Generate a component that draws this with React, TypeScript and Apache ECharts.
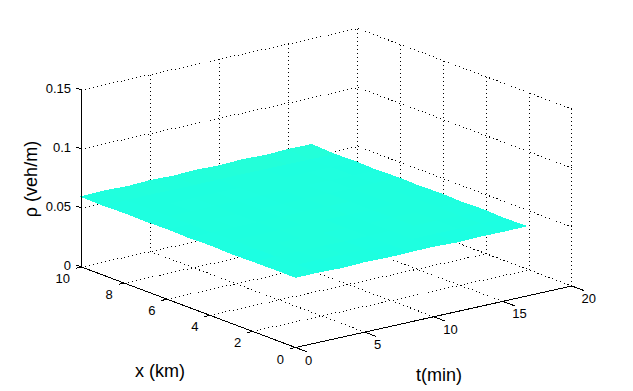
import React, { useEffect, useRef } from "react";
import * as echarts from "echarts";

const tTicks = [0, 5, 10, 15, 20];
const xTicks = [0, 2, 4, 6, 8, 10];
const zTicks = [0, 0.05, 0.1, 0.15];
const zTickLabels = ["0", "0.05", "0.1", "0.15"];
const surfaceT = [0, 1.67, 3.33, 5, 6.67, 8.33, 10, 11.67, 13.33, 15, 16.67];
const surfaceX = [0, 1, 2, 3, 4, 5, 6, 7, 8, 9, 10];
const rho0 = [0.0595, 0.0596, 0.0590, 0.0597, 0.0592, 0.0596, 0.0598, 0.0590, 0.0596, 0.0592, 0.0595];
const rho1 = [0.0596, 0.0594, 0.0597, 0.0595, 0.0596, 0.0593, 0.0595, 0.0597, 0.0594, 0.0596, 0.0590];
const rho2 = [0.0594, 0.0597, 0.0595, 0.0598, 0.0594, 0.0596, 0.0597, 0.0595, 0.0598, 0.0594, 0.0598];
const rho3 = [0.0591, 0.0595, 0.0598, 0.0596, 0.0599, 0.0595, 0.0594, 0.0598, 0.0596, 0.0597, 0.0592];
const rho4 = [0.0597, 0.0598, 0.0594, 0.0597, 0.0595, 0.0598, 0.0596, 0.0594, 0.0597, 0.0595, 0.0599];
const rho5 = [0.0592, 0.0594, 0.0597, 0.0595, 0.0598, 0.0596, 0.0599, 0.0595, 0.0597, 0.0596, 0.0593];
const rho6 = [0.0598, 0.0596, 0.0598, 0.0594, 0.0596, 0.0594, 0.0597, 0.0596, 0.0594, 0.0598, 0.0598];
const rho7 = [0.0593, 0.0595, 0.0596, 0.0598, 0.0595, 0.0597, 0.0595, 0.0598, 0.0596, 0.0595, 0.0591];
const rho8 = [0.0597, 0.0597, 0.0594, 0.0596, 0.0597, 0.0595, 0.0598, 0.0594, 0.0597, 0.0596, 0.0598];
const rho9 = [0.0592, 0.0595, 0.0597, 0.0595, 0.0594, 0.0597, 0.0596, 0.0597, 0.0595, 0.0594, 0.0593];
const rho10 = [0.0596, 0.0602, 0.0595, 0.0603, 0.0597, 0.0604, 0.0598, 0.0606, 0.0599, 0.0606, 0.0604];
const rhoRows = [rho0, rho1, rho2, rho3, rho4, rho5, rho6, rho7, rho8, rho9, rho10];

const tMax = tTicks[tTicks.length - 1];
const xMax = xTicks[xTicks.length - 1];
const zMax = zTicks[zTicks.length - 1];
const FONT = '"Liberation Sans", Arial, sans-serif';

// Fixed MATLAB-style orthographic view of the 3-D box onto the hidden 2-D axes.
const project = (t: number, x: number, z: number): [number, number] => [
  295.5 + 13.82 * t - 21.4 * x,
  347.5 - 3.075 * t - 8.05 * x - 1180 * z,
];

type P3 = [number, number, number];
const seg = (a: P3, b: P3, dotted: boolean, z: number) => ({
  type: "line",
  silent: true,
  symbol: "none",
  animation: false,
  z,
  lineStyle: { color: "#000", width: 1, type: dotted ? [1, 3] : "solid" },
  data: [project(...a), project(...b)],
});

const gridLines: any[] = [];
for (const t of tTicks) {
  if (t > 0) gridLines.push(seg([t, 0, 0], [t, xMax, 0], true, 1));
  gridLines.push(seg([t, xMax, 0], [t, xMax, zMax], true, 1));
}
for (const x of xTicks) {
  if (x > 0) gridLines.push(seg([0, x, 0], [tMax, x, 0], true, 1));
  gridLines.push(seg([tMax, x, 0], [tMax, x, zMax], true, 1));
}
for (const z of zTicks) {
  gridLines.push(seg([0, xMax, z], [tMax, xMax, z], true, 1));
  gridLines.push(seg([tMax, xMax, z], [tMax, 0, z], true, 1));
}

const axisLines = [
  seg([0, 0, 0], [tMax, 0, 0], false, 3),
  seg([0, 0, 0], [0, xMax, 0], false, 3),
  seg([0, xMax, 0], [0, xMax, zMax], false, 3),
  ...tTicks.map((t) => seg([t, 0, 0], [t, -0.55, 0], false, 3)),
  ...xTicks.map((x) => seg([0, x, 0], [-0.42, x, 0], false, 3)),
  ...zTicks.map((z) => seg([0, xMax, z], [0, xMax + 0.26, z], false, 3)),
];

const cells: number[][] = [];
for (let i = 0; i < surfaceX.length - 1; i++) {
  for (let j = 0; j < surfaceT.length - 1; j++) {
    cells.push([i, j]);
  }
}

const mix = (v: number) => {
  const k = Math.max(0, Math.min(1, (v - 0.0594) / 0.0006));
  const r = Math.round(0x1c + k * 0x08);
  const b = Math.round(0xe2 - k * 0x0a);
  return `rgb(${r},255,${b})`;
};

const surfaceSeries = {
  type: "custom",
  silent: true,
  animation: false,
  z: 2,
  coordinateSystem: "cartesian2d",
  data: cells,
  renderItem: (_p: any, api: any) => {
    const i = api.value(0);
    const j = api.value(1);
    const corner = (a: number, b: number) =>
      api.coord(project(surfaceT[b], surfaceX[a], rhoRows[a][b]));
    const mean =
      (rhoRows[i][j] + rhoRows[i + 1][j] + rhoRows[i][j + 1] + rhoRows[i + 1][j + 1]) / 4;
    const c = mix(mean);
    return {
      type: "polygon",
      shape: { points: [corner(i, j), corner(i + 1, j), corner(i + 1, j + 1), corner(i, j + 1)] },
      style: { fill: c, stroke: c, lineWidth: 1 },
    };
  },
};

type Lab = { text: string; at: [number, number]; align: string };
const labels: Lab[] = [
  ...tTicks.map((t) => {
    const p = project(t, 0, 0);
    return { text: String(t), at: [p[0] + 9.5, p[1] + 12.5] as [number, number], align: "left" };
  }),
  ...xTicks.map((x) => {
    const p = project(0, x, 0);
    return { text: String(x), at: [p[0] - 11.5, p[1] + 11.5] as [number, number], align: "right" };
  }),
  ...zTicks.map((z, i) => {
    const p = project(0, xMax, z);
    return { text: zTickLabels[i], at: [71, p[1] - 2] as [number, number], align: "right" };
  }),
];

const labelSeries = {
  type: "custom",
  silent: true,
  animation: false,
  z: 4,
  coordinateSystem: "cartesian2d",
  data: labels.map((l, i) => [l.at[0], l.at[1], i]),
  renderItem: (_p: any, api: any) => {
    const l = labels[api.value(2)];
    const c = api.coord([api.value(0), api.value(1)]);
    return {
      type: "text",
      x: c[0],
      y: c[1],
      style: {
        text: l.text,
        fontFamily: FONT,
        fontSize: 13,
        fill: "#000",
        align: l.align,
        verticalAlign: "middle",
      },
    };
  },
};

const title = (text: string, x: number, y: number, rotation = 0) => ({
  type: "text",
  x,
  y,
  rotation,
  silent: true,
  style: { text, fontFamily: FONT, fontSize: 18, fill: "#000", align: "center", verticalAlign: "middle" },
});

export default function App() {
  const ref = useRef<HTMLDivElement>(null);
  useEffect(() => {
    document.body.style.margin = "0";
    const chart = echarts.init(ref.current!, undefined, { renderer: "svg" });
    chart.setOption({
      animation: false,
      backgroundColor: "#fff",
      grid: { left: 0, right: 0, top: 0, bottom: 0 },
      xAxis: { type: "value", min: 0, max: 633, show: false },
      yAxis: { type: "value", min: 0, max: 391, inverse: true, show: false },
      series: [...gridLines, surfaceSeries, ...axisLines, labelSeries],
      graphic: [
        title("x (km)", 160, 371),
        title("t(min)", 439, 375),
        title("ρ (veh/m)", 31, 179, Math.PI / 2),
      ],
    });
    return () => chart.dispose();
  }, []);
  return (
    <>
      <style>{".plot3d svg path{shape-rendering:crispEdges}"}</style>
      <div className="plot3d" ref={ref} style={{ width: 633, height: 391 }} />
    </>
  );
}
